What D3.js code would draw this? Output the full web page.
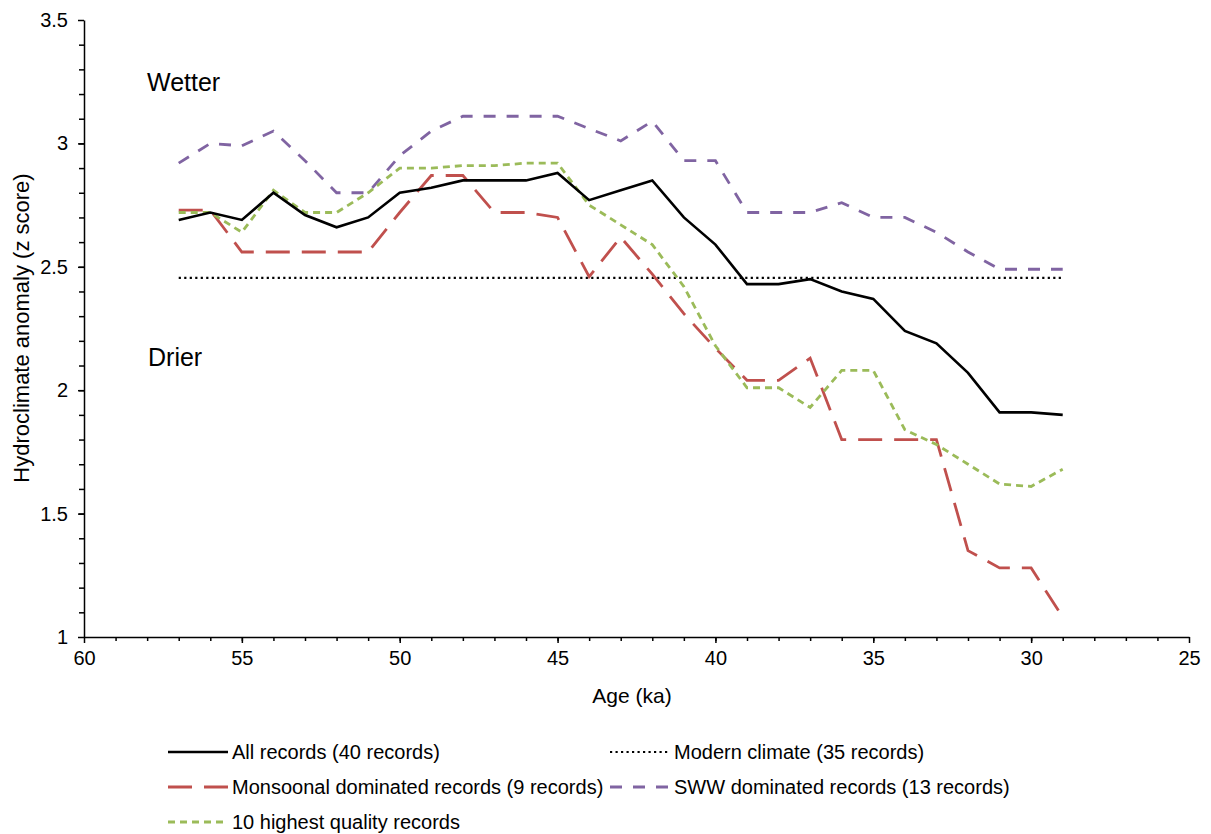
<!DOCTYPE html>
<html>

<head>
    <title>Hydroclimate anomaly vs age</title>
    <style>
        body {
            margin: 0;
            background: #fff;
        }

        svg text {
            font-family: "Liberation Sans", Arial, sans-serif;
            fill: #000;
        }
    </style>
    <script src="https://d3js.org/d3.v7.min.js"></script>
</head>

<body>
    <svg width="1211" height="834"></svg>

    <script>
        // ages (ka) of each point
        var ages = [57, 56, 55, 54, 53, 52, 51, 50, 49, 48, 47, 46, 45, 44, 43,
            42, 41, 40, 39, 38, 37, 36, 35, 34, 33, 32, 31, 30, 29];

        var allRecords = [2.69, 2.72, 2.69, 2.80, 2.71, 2.66, 2.70, 2.80, 2.82, 2.85, 2.85, 2.85, 2.88, 2.77, 2.81,
            2.85, 2.70, 2.59, 2.43, 2.43, 2.45, 2.40, 2.37, 2.24, 2.19, 2.07, 1.91, 1.91, 1.90];

        var monsoonal = [2.73, 2.73, 2.56, 2.56, 2.56, 2.56, 2.56, 2.72, 2.87, 2.87, 2.72, 2.72, 2.70, 2.46, 2.62,
            2.47, 2.31, 2.17, 2.04, 2.04, 2.13, 1.80, 1.80, 1.80, 1.80, 1.35, 1.28, 1.28, 1.08];

        var sww = [2.92, 3.00, 2.99, 3.05, 2.93, 2.80, 2.80, 2.95, 3.05, 3.11, 3.11, 3.11, 3.11, 3.06, 3.01,
            3.09, 2.93, 2.93, 2.72, 2.72, 2.72, 2.76, 2.70, 2.70, 2.64, 2.56, 2.49, 2.49, 2.49];

        var highQuality = [2.72, 2.72, 2.64, 2.81, 2.72, 2.72, 2.80, 2.90, 2.90, 2.91, 2.91, 2.92, 2.92, 2.75, 2.67,
            2.59, 2.42, 2.18, 2.01, 2.01, 1.93, 2.08, 2.08, 1.84, 1.78, 1.70, 1.62, 1.61, 1.68];

        var modernClimate = 2.455;

        var xTicks = [60, 55, 50, 45, 40, 35, 30, 25];
        var yTicks = [1, 1.5, 2, 2.5, 3, 3.5];

        var svg = d3.select("svg");

        var x = d3.scaleLinear().domain([60, 25]).range([84, 1189]);
        var y = d3.scaleLinear().domain([1, 3.5]).range([637, 20]);

        // minor ticks first so the major ones sit on top
        svg.append("g")
            .attr("transform", "translate(0,637)")
            .call(d3.axisBottom(x).tickValues(d3.range(59, 25, -1)).tickSize(4).tickFormat(""))
            .call(function (g) { g.select(".domain").remove(); });

        svg.append("g")
            .attr("transform", "translate(84,0)")
            .call(d3.axisLeft(y).tickValues(d3.range(11, 35).map(function (d) { return d / 10; })).tickSize(5).tickFormat(""))
            .call(function (g) { g.select(".domain").remove(); });

        var xAxis = svg.append("g")
            .attr("transform", "translate(0,637)")
            .call(d3.axisBottom(x).tickValues(xTicks).tickSize(6).tickPadding(8).tickSizeOuter(0));

        var yAxis = svg.append("g")
            .attr("transform", "translate(84,0)")
            .call(d3.axisLeft(y).tickValues(yTicks).tickSize(6).tickPadding(10).tickSizeOuter(0).tickFormat(d3.format("")));

        svg.selectAll(".tick line, .domain")
            .attr("stroke", "#000")
            .attr("stroke-width", 1.5);

        svg.selectAll(".tick text")
            .attr("font-size", 20)
            .attr("font-family", null);

        // axis titles
        svg.append("text")
            .attr("x", 632)
            .attr("y", 703)
            .attr("text-anchor", "middle")
            .attr("font-size", 21)
            .text("Age (ka)");

        svg.append("text")
            .attr("transform", "translate(29,328) rotate(-90)")
            .attr("text-anchor", "middle")
            .attr("font-size", 22)
            .text("Hydroclimate anomaly (z score)");

        svg.append("text")
            .attr("x", 147)
            .attr("y", 91)
            .attr("font-size", 25)
            .text("Wetter");

        svg.append("text")
            .attr("x", 148)
            .attr("y", 366)
            .attr("font-size", 25)
            .text("Drier");

        var series = [
            { name: "Monsoonal dominated records (9 records)", values: monsoonal, color: "#c0504d", dash: "24,12" },
            { name: "SWW dominated records (13 records)", values: sww, color: "#8064a2", dash: "12,11" },
            { name: "10 highest quality records", values: highQuality, color: "#9bbb59", dash: "7,5" },
            { name: "All records (40 records)", values: allRecords, color: "#000", dash: null }
        ];

        var line = d3.line()
            .x(function (d) { return x(d[0]); })
            .y(function (d) { return y(d[1]); });

        // modern climate reference line
        svg.append("path")
            .datum([[ages[0], modernClimate], [ages[ages.length - 1], modernClimate]])
            .attr("d", line)
            .attr("fill", "none")
            .attr("stroke", "#000")
            .attr("stroke-width", 2.2)
            .attr("stroke-dasharray", "2.2,3.3");

        svg.selectAll(".series")
            .data(series)
            .enter().append("path")
            .attr("class", "series")
            .attr("d", function (s) { return line(d3.zip(ages, s.values)); })
            .attr("fill", "none")
            .attr("stroke", function (s) { return s.color; })
            .attr("stroke-width", function (s) { return s.dash ? 2.8 : 2.6; })
            .attr("stroke-dasharray", function (s) { return s.dash; });

        // legend
        var legendItems = [
            { name: "All records (40 records)", color: "#000", dash: null, width: 2.6, lx: 168, ly: 752 },
            { name: "Modern climate (35 records)", color: "#000", dash: "2.2,3.3", width: 2.2, lx: 610, ly: 752 },
            { name: "Monsoonal dominated records (9 records)", color: "#c0504d", dash: "24,12", width: 2.8, lx: 168, ly: 787 },
            { name: "SWW dominated records (13 records)", color: "#8064a2", dash: "12,11", width: 2.8, lx: 610, ly: 787 },
            { name: "10 highest quality records", color: "#9bbb59", dash: "7,5", width: 2.8, lx: 168, ly: 822 }
        ];

        var legend = svg.selectAll(".legend")
            .data(legendItems)
            .enter().append("g")
            .attr("class", "legend")
            .attr("transform", function (d) { return "translate(" + d.lx + "," + d.ly + ")"; });

        legend.append("line")
            .attr("x1", 0)
            .attr("x2", 60)
            .attr("stroke", function (d) { return d.color; })
            .attr("stroke-width", function (d) { return d.width; })
            .attr("stroke-dasharray", function (d) { return d.dash; });

        legend.append("text")
            .attr("x", 64)
            .attr("y", 7)
            .attr("font-size", 20)
            .text(function (d) { return d.name; });
    </script>
</body>

</html>
